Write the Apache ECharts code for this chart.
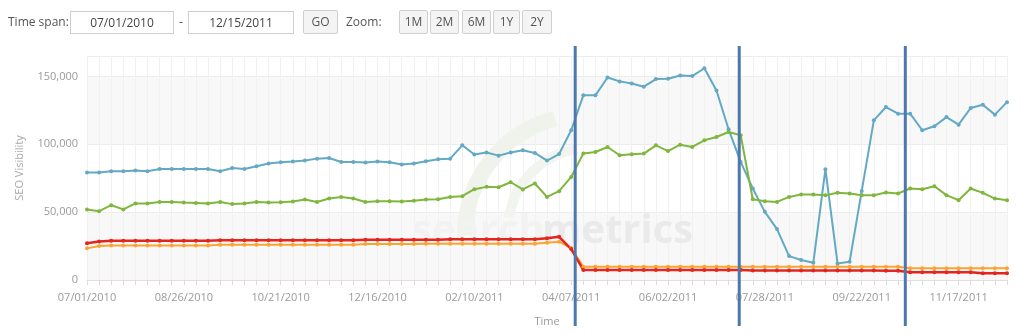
<!DOCTYPE html>
<html>
<head>
<meta charset="utf-8">
<script src="https://cdn.jsdelivr.net/npm/echarts@6/dist/echarts.min.js"></script>
<style>
  html, body { margin:0; padding:0; background:#fff; }
  #wrap { position:relative; width:1022px; height:334px; overflow:hidden; }
  #chart { position:absolute; left:0; top:0; width:1022px; height:334px; }
  #ctrl { position:absolute; left:0; top:0; width:1022px; height:44px; font-family:"Open Sans", sans-serif; font-size:12px; color:#555; }
  #ctrl .t { position:absolute; top:13px; }
  #ctrl .box { position:absolute; top:11px; height:21px; border:1px solid #cfcfcf; background:#fff; text-align:center; line-height:21px; color:#444; box-sizing:content-box; }
  #ctrl .btn { position:absolute; top:10px; height:22px; border:1px solid #cfcfcf; background:#f4f4f4; text-align:center; line-height:22px; color:#555; border-radius:2px; }
</style>
</head>
<body>
<div id="wrap">
  <div id="chart"></div>
  <div id="ctrl">
    <span class="t" style="left:8px">Time span:</span>
    <div class="box" style="left:70px;width:102px">07/01/2010</div>
    <span class="t" style="left:179px">-</span>
    <div class="box" style="left:188px;width:104px">12/15/2011</div>
    <div class="btn" style="left:303px;width:33px">GO</div>
    <span class="t" style="left:346px">Zoom:</span>
    <div class="btn" style="left:399px;width:27px">1M</div>
    <div class="btn" style="left:430px;width:27px">2M</div>
    <div class="btn" style="left:462px;width:27px">6M</div>
    <div class="btn" style="left:493px;width:25px">1Y</div>
    <div class="btn" style="left:522px;width:28px">2Y</div>
  </div>
</div>
<script>
// ---- data ----
var startDate = [2010, 7, 1];   // 07/01/2010, weekly points
var weekCount = 77;
var categories = [];
(function(){
  var d = new Date(Date.UTC(startDate[0], startDate[1]-1, startDate[2]));
  for (var i = 0; i < weekCount; i++) {
    var m = d.getUTCMonth()+1, day = d.getUTCDate();
    categories.push((m<10?'0':'')+m+'/'+(day<10?'0':'')+day+'/'+d.getUTCFullYear());
    d = new Date(d.getTime() + 7*86400000);
  }
})();

var blueValues = [
  79200,79200,80100,80100,80600,80100,81800,81800,81800,81800,
  81800,80100,82500,81800,83800,85800,86700,87200,88000,89400,
  89900,86900,86900,86500,87200,86700,85000,85800,87500,88900,
  89400,99200,92400,93900,91600,93900,95600,93600,88000,92800,
  110300,136000,136000,149200,146300,144800,142400,148000,148200,150700,
  150200,156000,139600,111000,87000,67400,50200,37500,17600,14700,
  12700,81600,12200,13500,65600,117600,127400,122500,122500,110300,
  113200,120000,114400,126700,129100,121800,131000
];
var greenValues = [
  52000,50700,55100,52000,56400,56400,57500,57500,57100,56800,
  56400,57500,55900,56400,57500,57100,57300,57800,59300,57500,
  60000,61200,60000,57500,58000,58000,57800,58300,59300,59500,
  61200,61700,66900,68600,68300,72000,66700,71100,61200,65400,
  75900,93100,94300,98000,91900,92600,93100,99200,95000,99700,
  98000,102900,105300,109000,106600,59500,58000,57500,61200,63000,
  63000,62500,64200,63700,62500,62500,64500,63700,67400,66900,
  69100,62500,58800,67400,64200,60000,58800
];
var orangeValues = [
  23300,25000,25500,25500,25500,25500,25500,25500,25500,25500,
  25500,25900,25900,25900,25900,25900,25900,25900,25900,25900,
  25900,25900,25900,26500,26500,26500,26500,26500,26700,26700,
  26700,26700,26700,26700,26700,26700,26700,26700,27500,28200,
  23500,9800,9800,9800,9800,9800,9800,9800,9800,9800,
  9800,9800,9800,9800,9800,9800,9800,9800,9800,9800,
  9800,9800,9800,9800,9800,9800,9800,9800,8600,8600,
  8600,8600,8600,8600,8600,8600,8600
];
var redValues = [
  27000,28400,28900,28900,28900,28900,28900,28900,28900,28900,
  28900,29200,29200,29200,29200,29200,29200,29200,29200,29200,
  29200,29200,29200,29600,29600,29600,29600,29600,29600,29600,
  30000,30000,30000,30000,30000,30000,30000,30000,30800,31800,
  22800,7400,7400,7400,7400,7400,7400,7400,7400,7400,
  7400,7400,7400,7400,7400,7000,7000,7000,7000,7000,
  7000,7000,7000,7000,7000,7000,6800,6800,5700,5700,
  5700,5700,5700,5700,4900,4900,4900
];
var yTicks = [0, 50000, 100000, 150000];
// annotation lines, in week index units
var annotationWeeks = [40.33, 53.88, 67.6];

// ---- chart ----
var chart = echarts.init(document.getElementById('chart'), null, {renderer:'canvas'});
var font = '"Open Sans", sans-serif';
function mkSeries(name, data, color, w) {
  return {
    name: name, type: 'line', data: data, xAxisIndex: 0,
    symbol: 'circle', symbolSize: 4, showSymbol: true,
    lineStyle: { width: w, color: color },
    itemStyle: { color: color },
    emphasis: { disabled: true }, animation: false
  };
}
chart.setOption({
  animation: false,
  grid: { left: 87, right: 15, top: 56, bottom: 54 },
  xAxis: [{
    type: 'category', data: categories, boundaryGap: false,
    name: 'Time', nameLocation: 'middle', nameGap: 36,
    nameTextStyle: { color: '#999', fontFamily: font, fontSize: 11 },
    axisLine: { lineStyle: { color: '#eadcdc' } },
    axisTick: { show: true, interval: 0, length: 5, lineStyle: { color: '#dcdcdc' } },
    axisLabel: { interval: 7, color: '#9a9a9a', fontFamily: font, fontSize: 11, margin: 12 },
    splitLine: { show: true, interval: 0, lineStyle: { color: '#f1f1f1', width: 1 } }
  }, {
    type: 'value', min: 0, max: weekCount - 1, show: false
  }],
  yAxis: {
    type: 'value', min: 0, max: 165000, interval: 50000,
    name: 'SEO Visibility', nameLocation: 'middle', nameRotate: 90, nameGap: 62,
    nameTextStyle: { color: '#aaa', fontFamily: font, fontSize: 11 },
    axisLine: { show: false }, axisTick: { show: false },
    axisLabel: {
      showMaxLabel: false, color: '#9a9a9a', fontFamily: font, fontSize: 11, margin: 9,
      formatter: function(v){ return yTicks.indexOf(v) >= 0 ? v.toLocaleString('en-US') : ''; }
    },
    splitLine: { show: true, lineStyle: { color: '#ececec' } },
    splitArea: { show: true, areaStyle: { color: ['#f8f8f8', '#ffffff'] } }
  },
  series: [
    mkSeries('blue', blueValues, '#63a9c4', 2),
    mkSeries('green', greenValues, '#7fb63c', 2),
    mkSeries('orange', orangeValues, '#f8a535', 2),
    mkSeries('red', redValues, '#e2251d', 2.5)
  ]
});

// watermark + annotation lines (lines placed through the axis scale)
var gfx = [
  { id: 'sw1', type: 'arc', z: 1, silent: true,
    shape: { cx: 585, cy: 235, r: 120, startAngle: Math.PI * 1.0, endAngle: Math.PI * 1.42 },
    style: { stroke: '#f0f3ec', lineWidth: 16, fill: null } },
  { id: 'sw2', type: 'arc', z: 1, silent: true,
    shape: { cx: 590, cy: 230, r: 82, startAngle: Math.PI * 1.05, endAngle: Math.PI * 1.45 },
    style: { stroke: '#f2f4f0', lineWidth: 10, fill: null } },
  { id: 'wm1', type: 'text', left: 412, top: 212, z: 1, silent: true,
    style: { text: 'search', font: 'bold 40px "Open Sans", sans-serif', fill: '#f2f2f2' } },
  { id: 'wm2', type: 'text', left: 542, top: 212, z: 1, silent: true,
    style: { text: 'metrics', font: 'bold 40px "Open Sans", sans-serif', fill: '#eaeaea' } }
];
annotationWeeks.forEach(function(w, k){
  var x = chart.convertToPixel({ xAxisIndex: 1 }, w);
  gfx.push({ id: 'ann' + k, type: 'line', z: 100, silent: true,
    shape: { x1: x, y1: 46, x2: x, y2: 326 },
    style: { stroke: '#4e78ad', lineWidth: 3 } });
});
chart.setOption({ graphic: gfx });
</script>
</body>
</html>
